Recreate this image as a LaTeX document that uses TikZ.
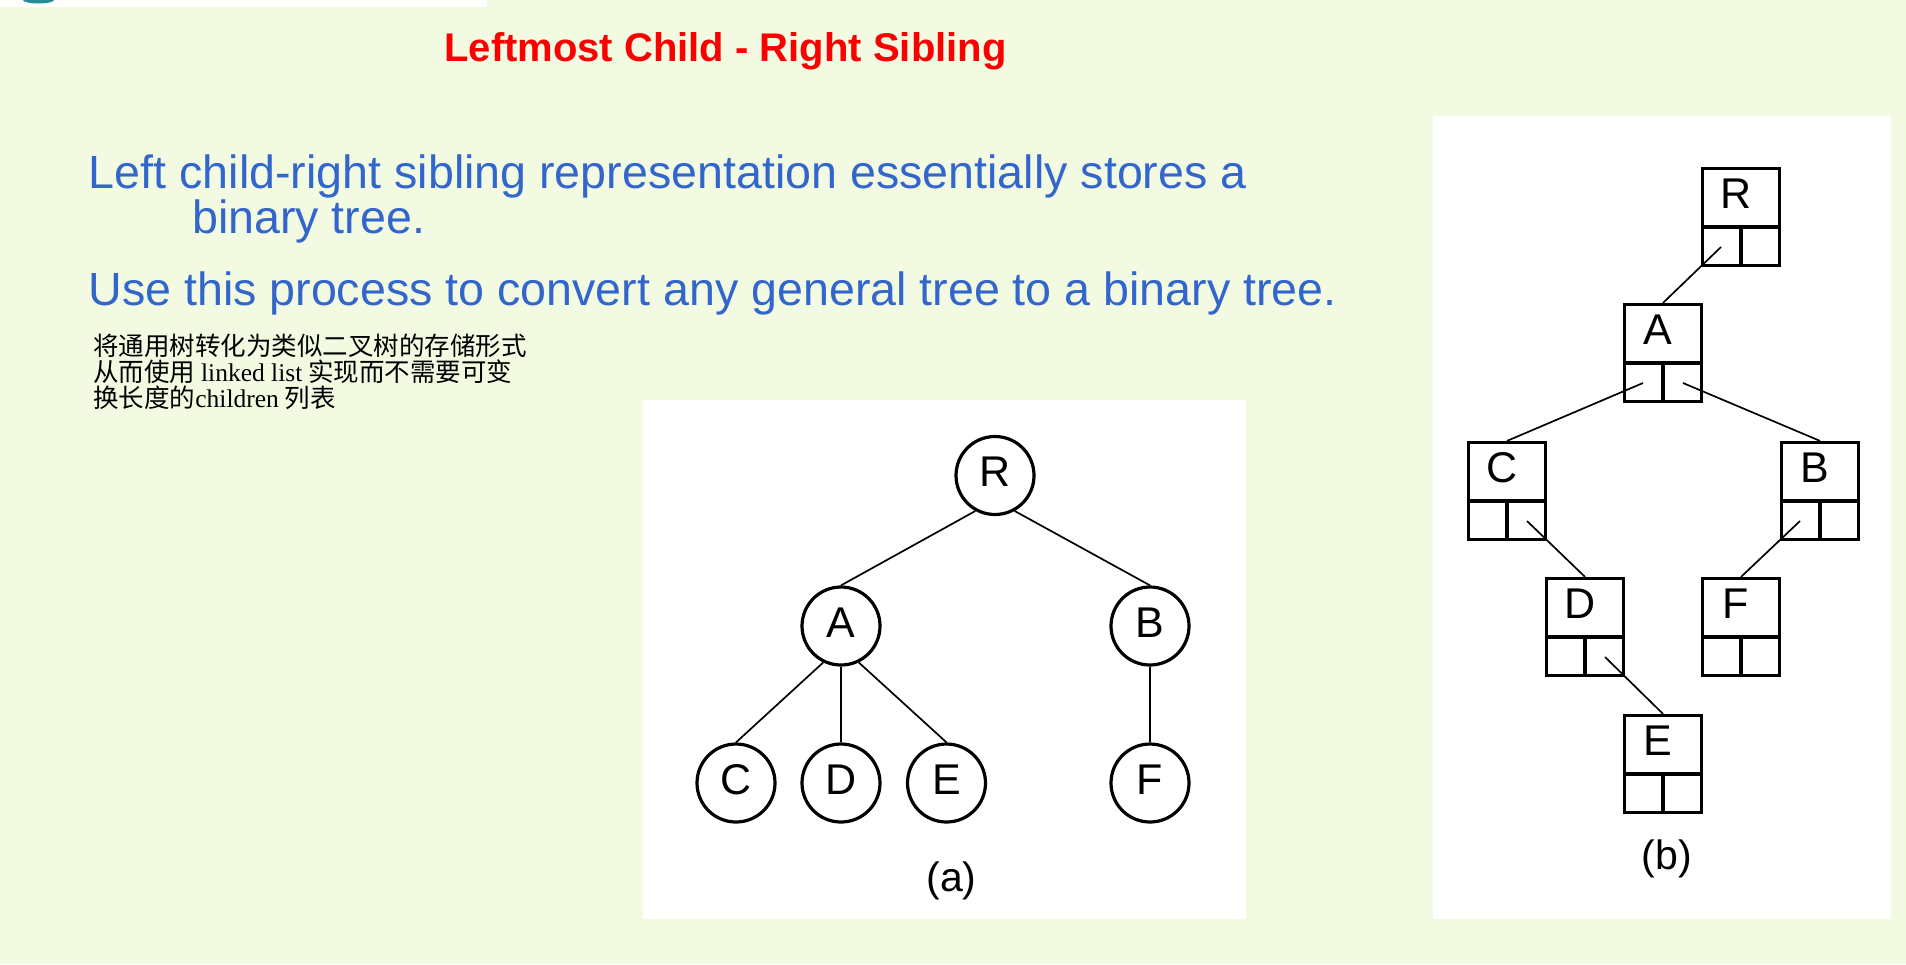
\documentclass[tikz,border=0pt]{standalone}
\usepackage{fontspec}
\setmainfont{Liberation Sans}
\newfontfamily\cjk{Noto Sans CJK SC}
\newfontfamily\timesl{Liberation Serif}
\usepackage{tikz}
\usetikzlibrary{calc,positioning}
\usepackage{xcolor}
\definecolor{slidebg}{RGB}{242,251,226}
\definecolor{titlered}{RGB}{250,0,0}
\definecolor{textblue}{RGB}{51,102,204}
\definecolor{logoteal}{RGB}{40,140,150}

\begin{document}
\begin{tikzpicture}[x=0.5pt, y=-0.5pt,
  gnode/.style={circle, draw, line width=1.6pt, minimum size=39pt, inner sep=0pt,
    font=\fontsize{21.5}{21.5}\selectfont, text height=15.4pt, text depth=4pt},
  bnode/.style={rectangle, draw, line width=1.6pt, minimum width=38.5pt, minimum height=48.5pt,
    inner sep=0pt, font=\fontsize{21.5}{21.5}\selectfont, text height=6pt, text depth=14.5pt,
    execute at begin node={\hspace*{-5pt}}},
  link/.style={line width=0.85pt},
  bluetext/.style={anchor=base west, inner sep=0pt, text=textblue, font=\fontsize{23.3}{23.3}\selectfont},
  cjktext/.style={anchor=base west, inner sep=0pt, font=\fontsize{12.75}{12.75}\cjk}]
  % Slide background
  \useasboundingbox (0,0) rectangle (1906,964);
  \fill[slidebg] (0,0) rectangle (1906,964);
  \fill[white] (0,0) rectangle (487,7);
  \fill[logoteal] (23,0) arc[start angle=180, end angle=0, x radius=15.5, y radius=3.5];

  % Title and text
  \node[anchor=base west, inner sep=0pt, text=titlered, font=\fontsize{20}{20}\selectfont\bfseries]
    (title) at (444,61) {Leftmost Child - Right Sibling};
  \node[bluetext] (line1) at (88.5,188.3) {Left child-right sibling representation essentially stores a};
  \node[bluetext] (line2) at (191.7,233) {binary tree.};
  \node[bluetext] (line3) at (88,305) {Use this process to convert any general tree to a binary tree.};
  \node[cjktext] (note1) at (93,355) {将通用树转化为类似二叉树的存储形式};
  \node[cjktext] (note2) at (93,381) {从而使用 {\timesl linked list} 实现而不需要可变};
  \node[cjktext] (note3) at (93,407) {换长度的{\timesl children} 列表};

  % Draw general tree (a)
  \fill[white] (643,400) rectangle (1246,919);
  \node[gnode] (gR) at (995,475.5) {R};
  \node[gnode] (gA) at (841,626) {A};
  \node[gnode] (gB) at (1150,626) {B};
  \node[gnode] (gC) at (736,783) {C};
  \node[gnode] (gD) at (841,783) {D};
  \node[gnode] (gE) at (946.5,783) {E};
  \node[gnode] (gF) at (1150,783) {F};
  \draw[link] (gR.-119) -- (gA.north);
  \draw[link] (gR.-61) -- (gB.north);
  \draw[link] (gA.-116) -- (gC.north);
  \draw[link] (gA.south) -- (gD.north);
  \draw[link] (gA.-64) -- (gE.north);
  \draw[link] (gB.south) -- (gF.north);
  \node[anchor=base, inner sep=0pt, font=\fontsize{20.5}{20.5}\selectfont] (capa) at (951.5,891) {(a)};

  % Draw binary tree (b)
  \fill[white] (1433,116) rectangle (1891,919);
  \node[bnode] (bR) at (1741,217) {R};
  \node[bnode] (bA) at (1663,353) {A};
  \node[bnode] (bC) at (1507,491) {C};
  \node[bnode] (bB) at (1820,491) {B};
  \node[bnode] (bD) at (1585,627) {D};
  \node[bnode] (bF) at (1741,627) {F};
  \node[bnode] (bE) at (1663,764) {E};
  \foreach \n in {bR,bA,bC,bB,bD,bF,bE} {
    \draw[line width=1.6pt] ([yshift=-5pt]\n.west) -- ([yshift=-5pt]\n.east);
    \draw[line width=1.6pt] ([yshift=-5pt]\n.center) -- (\n.south);
  }
  \draw[link] ([shift={(-10pt,-15pt)}]bR.center) -- (bA.north);
  \draw[link] ([shift={(-10pt,-15pt)}]bA.center) -- (bC.north);
  \draw[link] ([shift={(10pt,-15pt)}]bA.center) -- (bB.north);
  \draw[link] ([shift={(10pt,-15pt)}]bC.center) -- (bD.north);
  \draw[link] ([shift={(-10pt,-15pt)}]bB.center) -- (bF.north);
  \draw[link] ([shift={(10pt,-15pt)}]bD.center) -- (bE.north);
  \node[anchor=base, inner sep=0pt, font=\fontsize{20.5}{20.5}\selectfont] (capb) at (1667,869) {(b)};
\end{tikzpicture}
\end{document}
